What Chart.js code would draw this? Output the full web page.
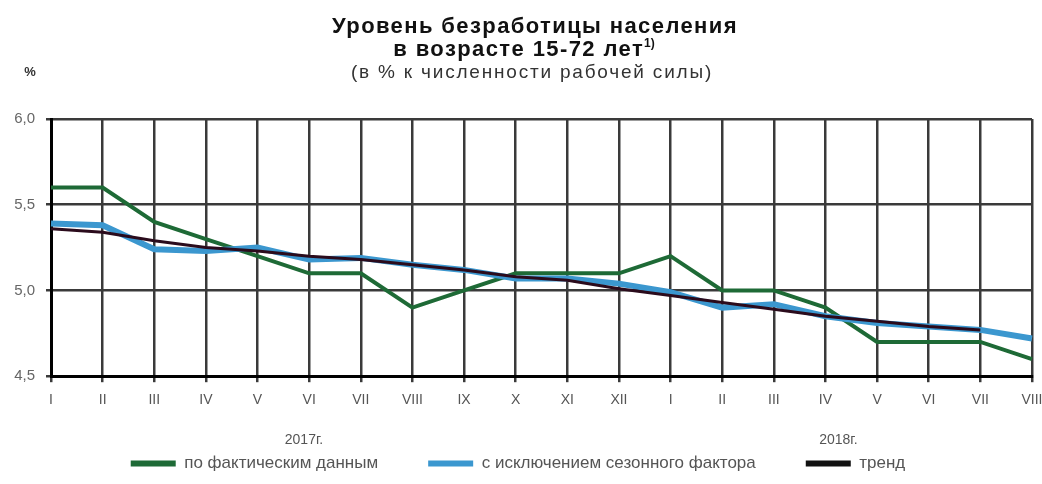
<!DOCTYPE html>
<html>
<head>
<meta charset="utf-8">
<script src="https://cdn.jsdelivr.net/npm/chart.js@4/dist/chart.umd.min.js"></script>
<style>
  html, body { margin: 0; padding: 0; background: #fff; }
  #wrap { width: 1042px; height: 484px; }
</style>
</head>
<body>
<div id="wrap"><canvas id="chart" width="1042" height="484"></canvas></div>
<script>
// months: 2017 I..XII, 2018 I..VIII
const months = ["I", "II", "III", "IV", "V", "VI", "VII", "VIII", "IX", "X", "XI", "XII",
  "I", "II", "III", "IV", "V", "VI", "VII", "VIII"]
const actual = [5.6, 5.6, 5.4, 5.3, 5.2, 5.1, 5.1, 4.9, 5.0, 5.1, 5.1, 5.1,
  5.2, 5.0, 5.0, 4.9, 4.7, 4.7, 4.7, 4.6]
const seasonal = [5.39, 5.38, 5.24, 5.23, 5.25, 5.18, 5.19, 5.15, 5.12, 5.07, 5.07, 5.04,
  4.99, 4.90, 4.92, 4.85, 4.81, 4.79, 4.77, 4.72]
const trend = [5.36, 5.34, 5.29, 5.25, 5.23, 5.20, 5.18, 5.15, 5.12, 5.08, 5.06, 5.01,
  4.97, 4.93, 4.89, 4.85, 4.82, 4.79, 4.77, null]
const yearLabels = [{ text: "2017г.", at: 4.9 }, { text: "2018г.", at: 15.25 }]
const seriesNames = ["по фактическим данным", "с исключением сезонного фактора", "тренд"]
const titleLines = ["Уровень безработицы населения", "в возрасте 15-72 лет"]
const subtitleText = "(в % к численности рабочей силы)"

const FONT = "'Liberation Sans', Arial, sans-serif"
const GRAY = "#555"

// title block, "%" unit and the year captions under the axis
const extraText = {
  id: "extraText",
  afterDraw(chart) {
    const ctx = chart.ctx
    const x = chart.scales.x
    const step = (x.right - x.left) / (months.length - 1)
    ctx.save()
    ctx.textBaseline = "alphabetic"

    // title line 1
    ctx.fillStyle = "#111"
    ctx.textAlign = "center"
    ctx.font = "bold 22px " + FONT
    ctx.letterSpacing = "1.4px"
    ctx.fillText(titleLines[0], 535, 33)

    // title line 2 with footnote mark
    const w2 = ctx.measureText(titleLines[1]).width
    ctx.font = "bold 12px " + FONT
    ctx.letterSpacing = "0px"
    const wSup = ctx.measureText("1)").width
    const start = 524 - (w2 + wSup) / 2
    ctx.textAlign = "left"
    ctx.font = "bold 22px " + FONT
    ctx.letterSpacing = "1.4px"
    ctx.fillText(titleLines[1], start, 55.5)
    ctx.font = "bold 12px " + FONT
    ctx.letterSpacing = "0px"
    ctx.fillText("1)", start + w2, 47)

    // subtitle
    ctx.fillStyle = "#333"
    ctx.textAlign = "center"
    ctx.font = "19px " + FONT
    ctx.letterSpacing = "1.8px"
    ctx.fillText(subtitleText, 532, 78)
    ctx.letterSpacing = "0px"

    ctx.textBaseline = "middle"
    ctx.fillStyle = GRAY
    ctx.font = "14px " + FONT
    yearLabels.forEach((y) => {
      ctx.fillText(y.text, x.left + y.at * step, 440)
    })
    ctx.fillStyle = "#333"
    ctx.font = "bold 13px " + FONT
    ctx.fillText("%", 30, 72)
    ctx.restore()
  },
}

new Chart(document.getElementById("chart"), {
  type: "line",
  data: {
    labels: months,
    datasets: [
      {
        label: seriesNames[0],
        data: actual,
        borderColor: "#1e6a36",
        backgroundColor: "#1e6a36",
        borderWidth: 4,
        order: 2,
      },
      {
        label: seriesNames[1],
        data: seasonal,
        borderColor: "#3b97cf",
        backgroundColor: "#3b97cf",
        borderWidth: 6,
        order: 1,
      },
      {
        label: seriesNames[2],
        data: trend,
        borderColor: "#2b0b1c",
        backgroundColor: "#111",
        borderWidth: 3,
        order: 0,
      },
    ],
  },
  options: {
    responsive: false,
    animation: false,
    elements: { point: { radius: 0 }, line: { tension: 0 } },
    layout: { padding: { left: 4, right: 10, top: 119, bottom: 2 } },
    plugins: {
      tooltip: { enabled: false },
      legend: {
        position: "bottom",
        labels: {
          color: GRAY,
          font: { family: FONT, size: 17 },
          boxWidth: 45,
          boxHeight: 6,
          padding: 50,
          sort: (a, b) => a.datasetIndex - b.datasetIndex,
          generateLabels: (chart) =>
            Chart.defaults.plugins.legend.labels.generateLabels(chart).map((l) => ({ ...l, lineWidth: 0 })),
        },
      },
    },
    scales: {
      x: {
        offset: false,
        grid: { color: "#3a3a3a", lineWidth: 2.5, tickLength: 6 },
        border: { color: "#000", width: 3 },
        ticks: { color: GRAY, font: { family: FONT, size: 14 }, padding: 10, maxRotation: 0, autoSkip: false },
        afterFit(scale) {
          scale.height -= 14
          scale.paddingRight = 0
        },
      },
      y: {
        min: 4.5,
        max: 6.0,
        grid: { color: "#3a3a3a", lineWidth: 2.5, tickLength: 5 },
        border: { color: "#000", width: 3 },
        ticks: {
          stepSize: 0.5,
          color: "#666",
          font: { family: FONT, size: 15 },
          padding: 11,
          callback: (v) => v.toFixed(1).replace(".", ","),
        },
        afterFit(scale) { scale.width = 47 },
      },
    },
  },
  plugins: [extraText],
})
</script>
</body>
</html>
